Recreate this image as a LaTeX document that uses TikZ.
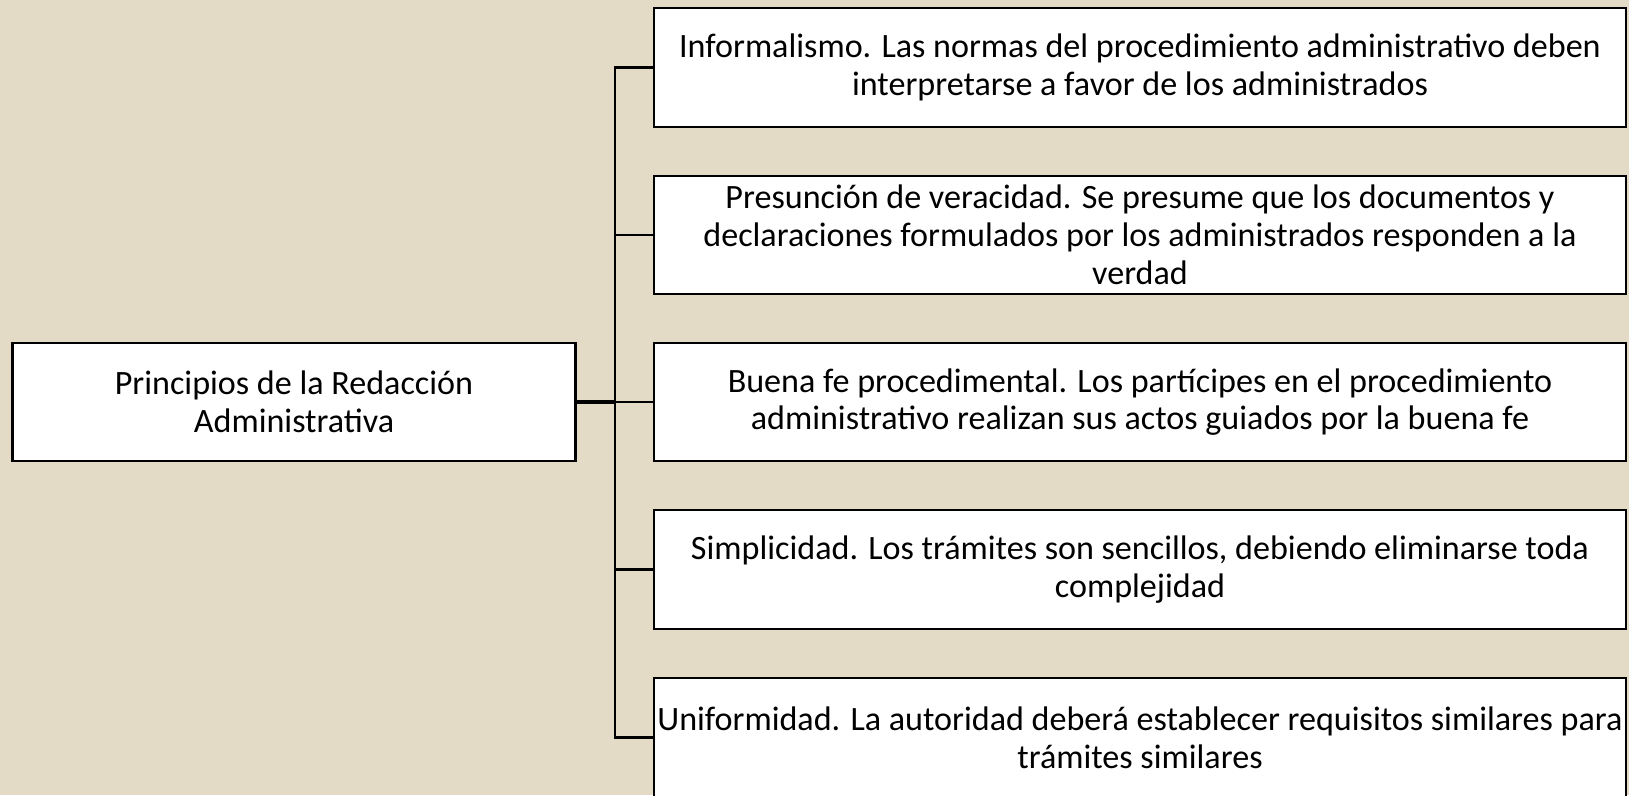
\documentclass[tikz,border=0pt]{standalone}
\usepackage{fontspec}
\setmainfont{Carlito}
\definecolor{paper}{HTML}{E3DBC6}

\begin{document}
\begin{tikzpicture}[
    box/.style={draw=black, fill=white, line width=1.3pt, minimum width=19.45cm,
        minimum height=2.37cm, align=center, inner sep=0pt, font=\fontsize{19.4}{21.5}\selectfont},
    rootbox/.style={box, minimum width=11.26cm},
    link/.style={draw=black, line width=1.3pt}
    ]
    \useasboundingbox[fill=paper] (0,0) rectangle (32.58,-15.9);
    \node [rootbox] (root) at (5.88,-8.04) {Principios de la Redacción\\Administrativa};
    \node [box] (inf) at (22.8,-1.35) {Informalismo. Las normas del procedimiento administrativo deben\\interpretarse a favor de los administrados};
    \node [box] (pres) at (22.8,-4.70) {Presunción de veracidad. Se presume que los documentos y\\declaraciones formulados por los administrados responden a la\\verdad};
    \node [box] (fe) at (22.8,-8.04) {Buena fe procedimental. Los partícipes en el procedimiento\\administrativo realizan sus actos guiados por la buena fe};
    \node [box] (simp) at (22.8,-11.39) {Simplicidad. Los trámites son sencillos, debiendo eliminarse toda\\complejidad};
    \node [box] (unif) at (22.8,-14.75) {Uniformidad. La autoridad deberá establecer requisitos similares para\\trámites similares};
    \coordinate (fork) at (12.3,-8.04);
    \draw [link, line width=2pt] (root.east) -- (fork);
    \foreach \kid in {inf,pres,fe,simp,unif}
        \draw [link] (fork) |- (\kid.west);
\end{tikzpicture}
\end{document}
